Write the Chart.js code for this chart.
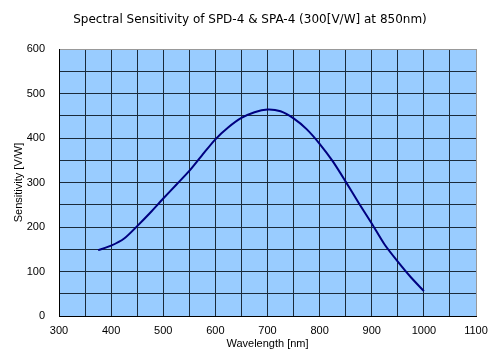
<!DOCTYPE html>
<html><head><meta charset="utf-8">
<script src="https://cdn.jsdelivr.net/npm/chart.js@4.4.1/dist/chart.umd.min.js"></script>
<style>html,body{margin:0;padding:0;background:#fff;}#wrap{width:500px;height:364px;}</style>
</head><body><div id="wrap"><canvas id="c" width="500" height="364"></canvas></div>
<script>
const wavelengths = [375,400,425,450,475,500,525,550,575,600,625,650,675,700,725,750,775,800,825,850,875,900,925,950,975,1000];
const sensitivity = [148,158,174,202,232,264,295,326,362,397,424,445,458,464,460,444,420,387,348,302,254,208,160,122,87,56];
const xTicks = [300,400,500,600,700,800,900,1000,1100];
const yTicks = [0,100,200,300,400,500,600];

const PL=59, PR=476, PT=49, PB=316, W=500, H=364;
const padB=13;
const bgPlugin = {
  id:'bg',
  beforeDraw(chart){
    const {ctx, chartArea:a} = chart;
    ctx.save(); ctx.fillStyle='#99CCFF';
    ctx.fillRect(a.left,a.top,a.right-a.left,a.bottom-a.top);
    ctx.restore();
  }
};
const font = {family:'"Liberation Sans", Arial, sans-serif', size:11};
new Chart(document.getElementById('c'), {
  type:'line',
  data:{datasets:[{
    data: wavelengths.map((w,i)=>({x:w,y:sensitivity[i]})),
    borderColor:'#000080', borderWidth:2, pointRadius:0, tension:0.25, fill:false
  }]},
  options:{
    responsive:false, animation:false,
    layout:{padding:{left:0,right:0,top:0,bottom:padB}},
    plugins:{
      legend:{display:false}, tooltip:{enabled:false},
      title:{display:true, text:'Spectral Sensitivity of SPD-4 & SPA-4 (300[V/W] at 850nm)',
        color:'#000', font:{family:'"DejaVu Sans", sans-serif', size:12, weight:'normal'},
        padding:{top:12.8,bottom:21.8}}
    },
    scales:{
      x:{type:'linear', min:300, max:1100,
        afterBuildTicks(s){ const t=[]; for(let v=300; v<=1100; v+=50) t.push({value:v}); s.ticks=t; },
        afterFit(s){ s.height = H-PB-padB; },
        ticks:{color:'#000', font, padding:8, maxRotation:0, autoSkip:false,
          callback:(v)=> xTicks.includes(v) ? String(v) : ''},
        grid:{color:(c)=> c.tick && c.tick.value===1100 ? '#999' : '#1a2a3a', lineWidth:1, drawTicks:false},
        border:{color:'#000', width:1},
        title:{display:true, text:'Wavelength [nm]', color:'#000', font, padding:{top:1,bottom:0}}
      },
      y:{type:'linear', min:0, max:600, position:'left',
        afterBuildTicks(s){ const t=[]; for(let v=0; v<=600; v+=50) t.push({value:v}); s.ticks=t; },
        afterFit(s){ s.width = PL; },
        ticks:{color:'#000', font, padding:14, autoSkip:false,
          callback:(v)=> yTicks.includes(v) ? String(v) : ''},
        grid:{color:(c)=> c.tick && c.tick.value===600 ? '#999' : '#1a2a3a', lineWidth:1, drawTicks:false},
        border:{color:'#000', width:1},
        title:{display:true, text:'Sensitivity [V/W]', color:'#000', font, padding:{top:12,bottom:0}}
      },
      yRight:{type:'linear', min:0, max:600, position:'right',
        afterFit(s){ s.width = W-PR; },
        ticks:{display:false}, grid:{display:false, drawTicks:false}, border:{display:false}
      }
    }
  },
  plugins:[bgPlugin]
});
</script></body></html>
